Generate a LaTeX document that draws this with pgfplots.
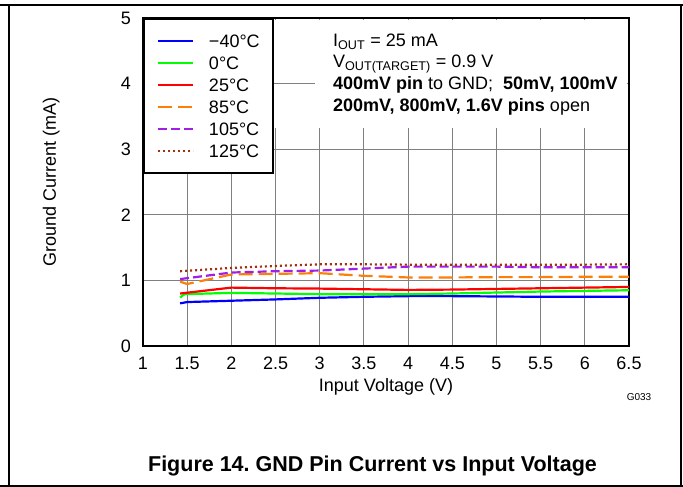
\documentclass[border=0pt]{standalone}
\usepackage{fontspec}
\setmainfont{Liberation Sans}
\usepackage{pgfplots}
\pgfplotsset{compat=1.18}
\frenchspacing

\definecolor{cblue}{RGB}{0,0,255}
\definecolor{cgreen}{RGB}{0,255,0}
\definecolor{cred}{RGB}{255,0,0}
\definecolor{corange}{RGB}{250,128,10}
\definecolor{cpurple}{RGB}{160,30,230}
\definecolor{cbrown}{RGB}{160,50,15}
\newcommand\chartfont{\fontsize{18}{21.7}\selectfont}

\begin{document}
\begin{tikzpicture}
\useasboundingbox (-143pt,-141pt) rectangle (540pt,346pt);
% page frame
\draw[line width=1.2pt] (-143pt,341pt) -- (540pt,341pt);
\draw[line width=1.2pt] (-143pt,-140pt) -- (540pt,-140pt);
\draw[line width=1.2pt] (-134pt,341pt) -- (-134pt,-140pt);
\draw[line width=1.2pt] (538pt,341pt) -- (538pt,-140pt);

\begin{axis}[
    scale only axis, width=486pt, height=328pt,
    xmin=1, xmax=6.5, ymin=0, ymax=5,
    xtick={1,1.5,2,2.5,3,3.5,4,4.5,5,5.5,6,6.5},
    ytick={0,1,2,3,4,5},
    grid=major,
    major grid style={black!50, line width=1pt},
    axis line style={line width=2.3pt},
    major tick length=0pt,
    tick label style={font=\chartfont},
    /pgf/number format/assume math mode=true,
    xticklabel style={anchor=center, yshift=-17pt, inner sep=0pt},
    yticklabel style={anchor=east, xshift=-12pt, inner sep=0pt},
    label style={font=\chartfont},
    xlabel={Input Voltage (V)},
    ylabel={Ground Current (mA)},
    xlabel style={at={(axis description cs:0.5,-0.14)}, anchor=base},
    ylabel style={at={(axis description cs:-0.189,0.5)}, anchor=center},
    legend cell align=left,
    legend image code/.code={\draw[#1] (0pt,0pt) -- (35pt,0pt);},
    legend style={at={(0,1)}, anchor=north west, draw=black, line width=1.6pt,
        fill=white, inner xsep=13pt, inner ysep=15.5pt, row sep=9.3pt,
        column sep=15pt, font=\chartfont,
        nodes={inner sep=0pt, text height=12.8pt, text depth=0pt}},
  ]
  \addplot[cblue, line width=2.2pt] coordinates {
    (1.42,0.65) (1.5,0.67) (2,0.69) (2.5,0.71) (3,0.735) (3.5,0.75)
    (4,0.76) (4.5,0.76) (5,0.755) (5.5,0.75) (6,0.75) (6.5,0.75)};
  \addlegendentry{−40°C}
  \addplot[cgreen, line width=2.2pt] coordinates {
    (1.42,0.74) (1.47,0.79) (2,0.81) (2.5,0.80) (3,0.79) (3.5,0.79)
    (4,0.79) (4.5,0.80) (5,0.815) (5.5,0.83) (6,0.84) (6.5,0.85)};
  \addlegendentry{0°C}
  \addplot[cred, line width=2.2pt] coordinates {
    (1.42,0.80) (2,0.89) (2.5,0.88) (3,0.875) (3.5,0.865) (4,0.855)
    (4.5,0.86) (5,0.87) (5.5,0.88) (6,0.89) (6.5,0.90)};
  \addlegendentry{25°C}
  \addplot[corange, line width=2.2pt, dash pattern=on 14pt off 6pt] coordinates {
    (1.42,0.98) (1.5,0.945) (2,1.09) (2.5,1.10) (3,1.11) (3.5,1.07)
    (4,1.045) (4.5,1.045) (5,1.05) (5.5,1.05) (6,1.055) (6.5,1.056)};
  \addlegendentry{85°C}
  \addplot[cpurple, line width=2.2pt, dash pattern=on 9pt off 4pt] coordinates {
    (1.42,1.02) (2,1.12) (2.5,1.14) (3,1.15) (3.5,1.18) (4,1.21)
    (4.5,1.21) (5,1.21) (5.5,1.20) (6,1.20) (6.5,1.20)};
  \addlegendentry{105°C}
  \addplot[cbrown, line width=2.2pt, dash pattern=on 2pt off 3pt] coordinates {
    (1.42,1.14) (2,1.19) (2.5,1.22) (3,1.245) (3.5,1.245) (4,1.24)
    (4.5,1.24) (5,1.24) (5.5,1.24) (6,1.24) (6.5,1.245)};
  \addlegendentry{125°C}

  % white box behind the conditions text
  \fill[white] (axis cs:2.45,3.32) rectangle (axis cs:6.48,4.97);
  \draw[black!50, line width=1pt] (axis cs:2.43,4) -- (axis cs:2.95,4);
  \node[anchor=base west, font=\chartfont, inner sep=0pt] at (axis cs:3.15,4.5625)
    {I\textsubscript{OUT} = 25 mA};
  \node[anchor=base west, font=\chartfont, inner sep=0pt] at (axis cs:3.15,4.248)
    {V\textsubscript{OUT(TARGET)} = 0.9 V};
  \node[anchor=base west, font=\chartfont, inner sep=0pt] at (axis cs:3.15,3.913)
    {\textbf{400mV pin} to GND;\ \ \textbf{50mV, 100mV}};
  \node[anchor=base west, font=\chartfont, inner sep=0pt] at (axis cs:3.15,3.582)
    {\textbf{200mV, 800mV, 1.6V pins} open};
\end{axis}

\node[font=\fontsize{10}{12}\selectfont] at (496pt,-51pt) {G033};
\node[anchor=base, font=\fontsize{21.5}{25}\selectfont\bfseries] at (229.5pt,-126pt)
  {Figure 14. GND Pin Current vs Input Voltage};
\end{tikzpicture}
\end{document}
